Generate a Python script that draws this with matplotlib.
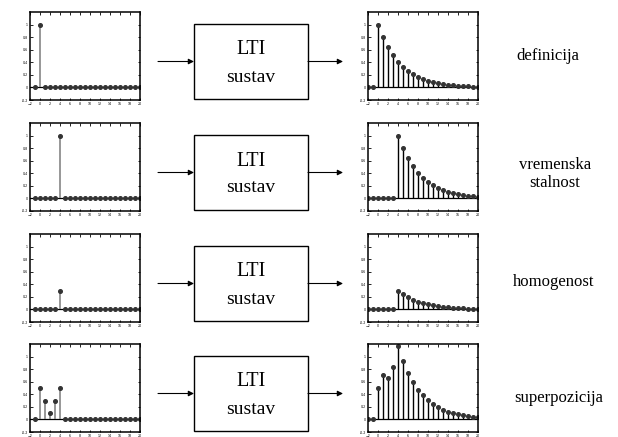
import numpy as np
import matplotlib
matplotlib.use("Agg")
import matplotlib.pyplot as plt
from matplotlib.patches import Rectangle

# ---------- DATA ----------
n_in = np.arange(-1, 21)
n_out = np.arange(-2, 21)

x_def = [0.0, 1.0] + [0.0] * 20
x_shift = [0.0] * 5 + [1.0] + [0.0] * 16
x_homog = [0.0] * 5 + [0.3] + [0.0] * 16
x_super = [0.0, 0.5, 0.3, 0.1, 0.3, 0.5] + [0.0] * 16

y_def = [0.0, 0.0, 1.0, 0.8, 0.64, 0.512, 0.41, 0.328, 0.262, 0.21, 0.168,
         0.134, 0.107, 0.086, 0.069, 0.055, 0.044, 0.035, 0.028, 0.023,
         0.018, 0.014, 0.012]
y_shift = [0.0] * 6 + [1.0, 0.8, 0.64, 0.512, 0.41, 0.328, 0.262, 0.21,
                       0.168, 0.134, 0.107, 0.086, 0.069, 0.055, 0.044,
                       0.035, 0.028]
y_homog = [0.0] * 6 + [0.3, 0.24, 0.192, 0.154, 0.123, 0.098, 0.079, 0.063,
                       0.05, 0.04, 0.032, 0.026, 0.021, 0.016, 0.013, 0.01,
                       0.008]
y_super = [0.0, 0.0, 0.5, 0.7, 0.66, 0.828, 1.162, 0.93, 0.744, 0.595, 0.476,
           0.381, 0.305, 0.244, 0.195, 0.156, 0.125, 0.1, 0.08, 0.064,
           0.051, 0.041, 0.033]

inputs = [x_def, x_shift, x_homog, x_super]
outputs = [y_def, y_shift, y_homog, y_super]
labels = ["definicija", "vremenska\nstalnost", "homogenost", "superpozicija"]
label_x = [548, 555, 554, 559]
label_y = [56, 174, 282, 398]

x_ticks = list(range(-2, 21, 2))
y_ticks = [-0.2, 0, 0.2, 0.4, 0.6, 0.8, 1]

# ---------- LAYOUT (pixels) ----------
W, H = 618, 437
row_top = [12, 123, 234, 344]
row_h = 88
in_left, out_left, ax_w = 30, 368, 110
box_left, box_w, box_h = 194, 114, 75

fig = plt.figure(figsize=(W / 100, H / 100), dpi=100)


def add_ax(left, top):
    return fig.add_axes([left / W, 1 - (top + row_h) / H, ax_w / W, row_h / H])


def style(ax):
    ax.set_xlim(-2, 20)
    ax.set_ylim(-0.2, 1.2)
    ax.set_xticks(x_ticks)
    ax.set_yticks(y_ticks)
    ax.set_yticklabels([f"{v:g}" for v in y_ticks])
    ax.tick_params(direction="in", length=1.8, width=0.6, labelsize=2.3,
                   top=True, right=True, pad=1.5, colors="black")
    for s in ax.spines.values():
        s.set_linewidth(1.1)


for i in range(4):
    ax_in = add_ax(in_left, row_top[i])
    ml, sl, bl = ax_in.stem(n_in, inputs[i], linefmt="-", markerfmt="o",
                            basefmt=" ")
    plt.setp(sl, color="#7a7a7a", linewidth=1.1)
    plt.setp(ml, color="#333333", markersize=2.6)
    ax_in.axhline(0, color="black", linewidth=0.9, zorder=1)
    style(ax_in)

    ax_out = add_ax(out_left, row_top[i])
    ml, sl, bl = ax_out.stem(n_out, outputs[i], linefmt="-", markerfmt="o",
                             basefmt=" ")
    plt.setp(sl, color="black", linewidth=1.0)
    plt.setp(ml, color="#333333", markersize=2.6)
    ax_out.axhline(0, color="black", linewidth=0.9, zorder=1)
    style(ax_out)

# ---------- OVERLAY: boxes, arrows, labels ----------
ov = fig.add_axes([0, 0, 1, 1])
ov.set_xlim(0, W)
ov.set_ylim(H, 0)
ov.axis("off")

for i in range(4):
    top = row_top[i] + 12
    cy = top + box_h / 2
    ov.add_patch(Rectangle((box_left, top), box_w, box_h, fill=False,
                           edgecolor="black", linewidth=1.0))
    ov.text(box_left + box_w / 2, top + 26, "LTI", ha="center", va="center",
            fontsize=14.5, family="Liberation Serif")
    ov.text(box_left + box_w / 2, top + 53, "sustav", ha="center",
            va="center", fontsize=14, family="Liberation Serif")
    ov.annotate("", xy=(box_left, cy), xytext=(158, cy),
                arrowprops=dict(arrowstyle="-|>", color="black", lw=0.8,
                                mutation_scale=8, shrinkA=0, shrinkB=0))
    ov.annotate("", xy=(343, cy), xytext=(box_left + box_w, cy),
                arrowprops=dict(arrowstyle="-|>", color="black", lw=0.8,
                                mutation_scale=8, shrinkA=0, shrinkB=0))
    ov.text(label_x[i], label_y[i], labels[i], ha="center", va="center",
            fontsize=12, family="Liberation Serif", linespacing=1.15)

fig.savefig("out.png", dpi=100)
